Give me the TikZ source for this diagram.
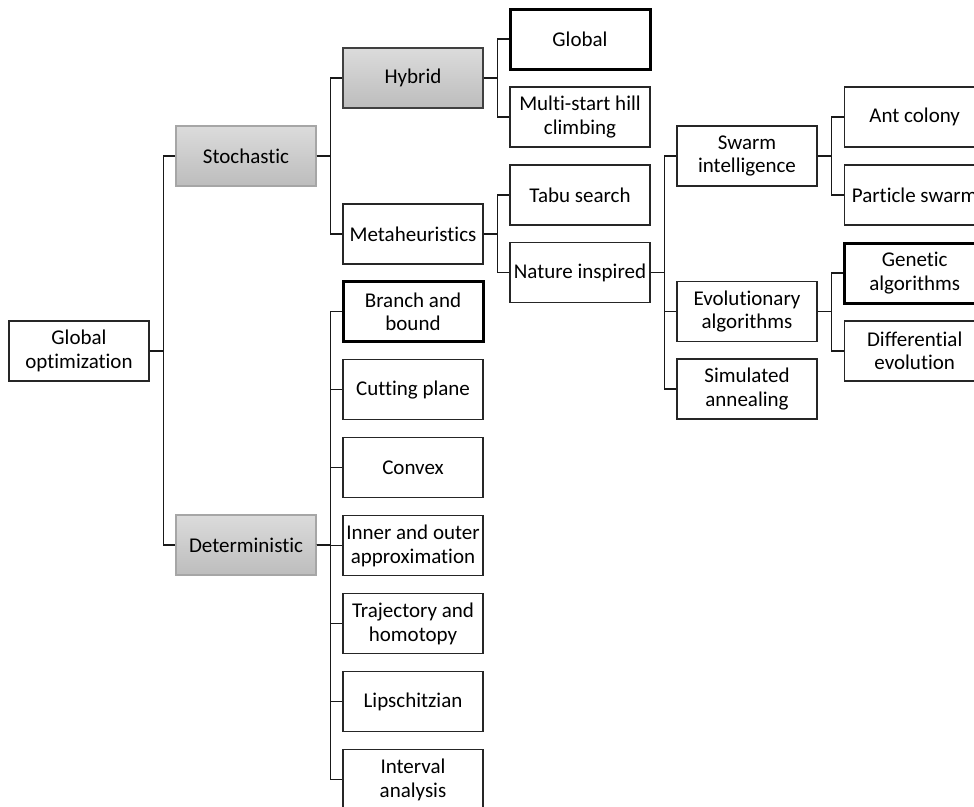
\documentclass[tikz,border=0pt]{standalone}
\usepackage{fontspec}
\setmainfont{Carlito}[Ligatures=NoCommon]
\usetikzlibrary{positioning}
\usetikzlibrary{calc}

\begin{document}
\begin{tikzpicture}[x=1pt,y=-1pt,line width=1.2pt,node distance=16.8pt,
		font=\fontsize{21}{23.5}\selectfont]
		\tikzstyle{box}=[draw=black!85,line width=1.2pt,minimum width=140pt,minimum height=60pt,align=center,inner sep=1pt,fill=white]
		\tikzstyle{greybox}=[box,draw=black!35,top color=black!14,bottom color=black!26]
		\tikzstyle{boldbox}=[box,draw=black,line width=3pt]
		\tikzstyle{elbow}=[draw=black!90,to path={-- ++(13.5,0) |- (\tikztotarget)}]
		
		\useasboundingbox (0,0) rectangle (974,806);
		
		\node[box]      (glob)    at (79,351)    {Global\\optimization};
		\node[greybox]  (stoch)   at (246,156)   {Stochastic};
		\node[greybox]  (determ)  at (246,545)   {Deterministic};
		
		\node[greybox,draw=black!75] (hybrid) at (413,78) {Hybrid};
		\node[box]      (meta)    at (413,234)   {Metaheuristics};
		
		\node[boldbox]  (bnb)     at (413,311.7) {Branch and\\bound};
		\node[box]      (cut)     [below=15.9pt of bnb] {Cutting plane};
		\node[box]      (convex)  [below=of cut]     {Convex};
		\node[box]      (inout)   [below=of convex]  {Inner and outer\\approximation};
		\node[box]      (traj)    [below=of inout]   {Trajectory and\\homotopy};
		\node[box]      (lips)    [below=of traj]    {Lipschitzian};
		\node[box]      (interv)  [below=of lips]    {Interval\\analysis};
		
		\node[boldbox]  (global)  at (580,39)    {Global};
		\node[box]      (multi)   at (580,117)   {Multi-start hill\\climbing};
		\node[box]      (tabu)    at (580,195)   {Tabu search};
		\node[box]      (nature)  at (580,272.7) {Nature inspired};
		
		\node[box]      (swarm)   at (747,156)   {Swarm\\intelligence};
		\node[box]      (evol)    at (747,311.7) {Evolutionary\\algorithms};
		\node[box]      (sim_ann) at (747,389)   {Simulated\\annealing};
		
		\node[box]      (ant)     at (914.7,117) {Ant colony};
		\node[box]      (part)    at (914.7,195) {Particle swarm};
		\node[boldbox]  (genetic) at (914.7,273) {Genetic\\algorithms};
		\node[box]      (diff)    at (914.7,351) {Differential\\evolution};
		
		\path (glob.east)   edge[elbow] (stoch.west)
		(glob.east)   edge[elbow] (determ.west)
		(stoch.east)  edge[elbow] (hybrid.west)
		(stoch.east)  edge[elbow] (meta.west)
		(hybrid.east) edge[elbow] (global.west)
		(hybrid.east) edge[elbow] (multi.west)
		(meta.east)   edge[elbow] (tabu.west)
		(meta.east)   edge[elbow] (nature.west)
		(nature.east) edge[elbow] (swarm.west)
		(nature.east) edge[elbow] (evol.west)
		(nature.east) edge[elbow] (sim_ann.west)
		(swarm.east)  edge[elbow] (ant.west)
		(swarm.east)  edge[elbow] (part.west)
		(evol.east)   edge[elbow] (genetic.west)
		(evol.east)   edge[elbow] (diff.west);
		
		\foreach \n in {bnb,cut,convex,inout,traj,lips,interv}
		\path (determ.east) edge[elbow] (\n.west);
		
		\end{tikzpicture}
\end{document}
